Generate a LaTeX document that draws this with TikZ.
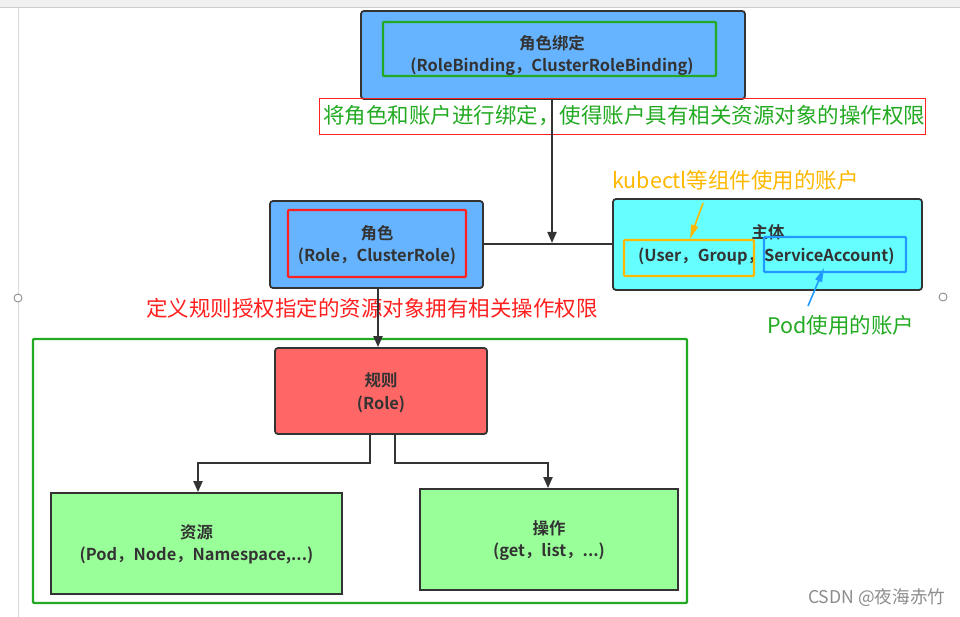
\documentclass[tikz,border=0pt]{standalone}
\usepackage{fontspec}
\setmainfont{Noto Sans CJK SC}[BoldFont={Noto Sans CJK SC Bold}]
\usetikzlibrary{arrows.meta}
\definecolor{boxblue}{HTML}{66B3FF}
\definecolor{boxcyan}{HTML}{66FFFF}
\definecolor{boxred}{HTML}{FF6666}
\definecolor{boxgreen}{HTML}{99FF99}
\definecolor{edge}{HTML}{333333}
\definecolor{lgreen}{HTML}{22AA22}
\definecolor{lred}{HTML}{FF2020}
\definecolor{lorange}{HTML}{FFB800}
\definecolor{lblue}{HTML}{2299FF}
\tikzset{
  card/.style={draw=edge, line width=1.8pt, rounded corners=3pt, inner sep=0pt},
  plain/.style={draw=edge, line width=1.8pt, inner sep=0pt},
  boxtext/.style={font=\fontsize{16.4}{22.5}\selectfont\bfseries, text=edge, align=center, inner sep=0pt},
  frame/.style={line width=2.4pt, inner sep=0pt, rounded corners=1pt},
  note/.style={font=\fontsize{21.5}{24}\selectfont, inner sep=0pt, anchor=west},
  conn/.style={draw=edge, line width=2pt},
  tip/.style={-{Triangle[length=11pt,width=9pt]}},
  callout/.style={line width=1.6pt, -{Triangle[length=14pt,width=7pt]}}
}
\begin{document}
\begin{tikzpicture}[x=1pt,y=-1pt]
\useasboundingbox (0,0) rectangle (960,617);
% window chrome
\fill[black!6] (0,0) rectangle (960,7);
\draw[black!20, line width=0.8pt] (0,7.5) -- (960,7.5);
\draw[black!15, line width=0.8pt] (18,8) -- (18,617);
\draw[black!50, line width=0.8pt, fill=white] (18,298) circle (4);
\draw[black!50, line width=0.8pt, fill=white] (943,297) circle (4);

% big green frame
\node[frame, draw=lgreen, minimum width=654, minimum height=264] (grp) at (360,471) {};

% top box
\node[card, fill=boxblue, minimum width=384, minimum height=88] (bind) at (553,55) {};
\node[frame, draw=lgreen, minimum width=333, minimum height=54] (bindin) at (549.5,49) {};
\node[boxtext] (bindt) at (552,55.5) {角色绑定\\(RoleBinding，ClusterRoleBinding)};

% binding label
\node[draw=lred, line width=0.8pt, minimum width=606, minimum height=36, inner sep=0pt] (bindlbl) at (622,116) {};
\node[note, text=lgreen] (bindnote) at (323,116) {将角色和账户进行绑定，使得账户具有相关资源对象的操作权限};

% role box
\node[card, fill=boxblue, minimum width=213, minimum height=87] (role) at (376.5,244.5) {};
\node[frame, draw=lred, minimum width=178, minimum height=67] (rolein) at (377,243.5) {};
\node[boxtext] (rolet) at (377,245) {角色\\(Role，ClusterRole)};

% subject box
\node[card, fill=boxcyan, minimum width=309, minimum height=91] (subj) at (767.5,244.5) {};
\node[boxtext, anchor=center] (subjh) at (768,232) {主体};
\node[boxtext, anchor=west] (subjt) at (638,256) {(User，Group，ServiceAccount)};
\node[frame, draw=lorange, minimum width=130, minimum height=36] (usr) at (689,258) {};
\node[frame, draw=lblue, minimum width=142, minimum height=35] (sa) at (835,254.5) {};

% annotations
\node[note, text=lorange] (kubenote) at (612,180) {kubectl等组件使用的账户};
\node[note, text=lgreen] (podnote) at (767,325) {Pod使用的账户};
\node[note, text=lred] (rulenote) at (146,308) {定义规则授权指定的资源对象拥有相关操作权限};
\coordinate (kubetail) at (703,203);
\coordinate (podtail) at (808,306);
\draw[callout, draw=lorange, fill=lorange] (kubetail) -- (usr.north -| 690,0);
\draw[callout, draw=lblue, fill=lblue] (podtail) -- (824,268);

% rule box
\node[card, fill=boxred, minimum width=212, minimum height=86] (rule) at (381,391) {};
\node[boxtext] (rulet) at (381,393) {规则\\(Role)};

% leaf boxes
\node[plain, fill=boxgreen, minimum width=291, minimum height=101] (res) at (196.5,543.5) {};
\node[boxtext] (rest) at (196.5,544.5) {资源\\(Pod，Node，Namespace,...)};
\node[plain, fill=boxgreen, minimum width=258, minimum height=101] (op) at (549,539.5) {};
\node[boxtext] (opt) at (549,540.5) {操作\\(get，list，...)};

% connectors
\coordinate (junc) at (552,243);
\draw[conn] (role.east) -- (subj.west);
\draw[conn, tip] (bind.south -| junc) -- (junc);
\draw[conn, tip] (role.south -| 378,0) -- (rule.north -| 378,0);
\draw[conn, tip] (rule.south -| 370,0) -- (370,463) -| (res.north -| 198,0);
\draw[conn, tip] (rule.south -| 395,0) -- (395,463) -| (op.north -| 548,0);

% watermark
\node[font=\fontsize{17.6}{19}\selectfont, text=black!45, anchor=west, inner sep=0pt] (wm) at (808,598) {CSDN @夜海赤竹};
\end{tikzpicture}
\end{document}
